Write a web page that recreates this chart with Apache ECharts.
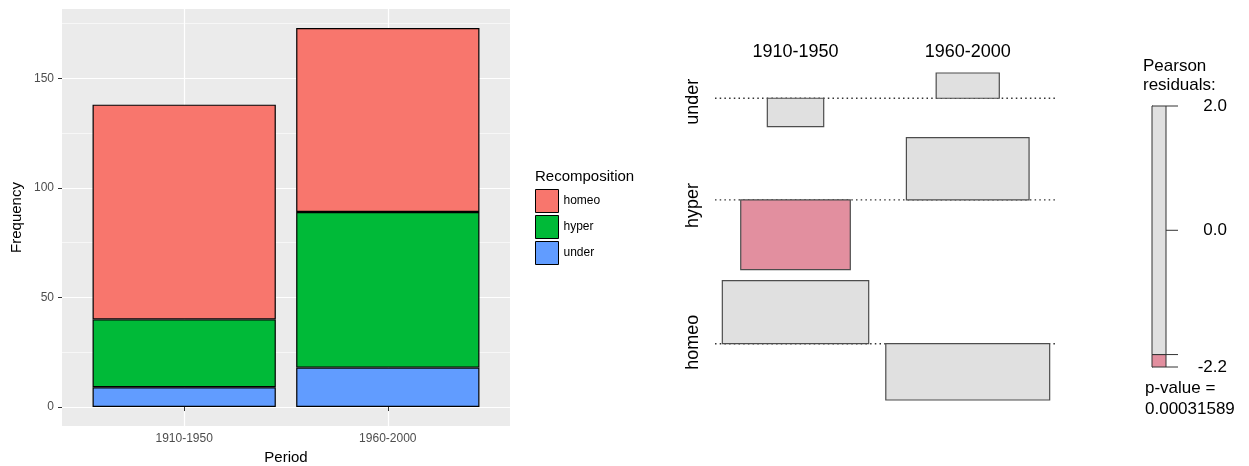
<!DOCTYPE html>
<html>
<head>
<meta charset="utf-8">
<title>Recomposition by period</title>
<script src="https://cdn.jsdelivr.net/npm/echarts@6/dist/echarts.min.js"></script>
<style>
  html, body { margin: 0; padding: 0; background: #fff; }
  #chart { width: 1249px; height: 466px; }
</style>
</head>
<body>
<div id="chart"></div>
<script>
// counts
var periods = ['1910-1950', '1960-2000'];
var groups = ['homeo', 'hyper', 'under'];
var underCounts = [9, 18];
var hyperCounts = [31, 71];
var homeoCounts = [98, 84];
var freqTicks = [0, 50, 100, 150];
var freqMinor = [25, 75, 125, 175];
var residualRange = [-2.2, 2.0];
var residualTicks = [-2.2, -2, 0, 2];
var residualLabels = [-2.2, 0, 2];
var pValue = '0.00031589';

var FONT = '"Liberation Sans", Arial, Helvetica, sans-serif';
var groupColors = { homeo: '#F8766D', hyper: '#00BA38', under: '#619CFF' };
var shadeGrey = '#E0E0E0';
var shadeRed = '#E28F9F';
var shadeBlue = '#8FB5E2';

var countsByGroup = { homeo: homeoCounts, hyper: hyperCounts, under: underCounts };

// ---- left: stacked bars ----
var totals = periods.map(function (p, j) {
  return underCounts[j] + hyperCounts[j] + homeoCounts[j];
});
var maxTotal = Math.max.apply(null, totals);
var yLo = -0.05 * maxTotal, yHi = 1.05 * maxTotal;  // ggplot-like expansion
var panelLeft = 62, panelW = 448;
var unitW = panelW / 2.2;  // discrete axis: 0.6 padding each side

var barSeries = ['under', 'hyper', 'homeo'].map(function (g) {
  return {
    name: g,
    type: 'bar',
    xAxisIndex: 3,
    yAxisIndex: 4,
    stack: 'freq',
    barWidth: '90%',
    itemStyle: { color: groupColors[g], borderColor: '#000', borderWidth: 1.2 },
    data: countsByGroup[g]
  };
});

// ---- right: association plot (Pearson residuals) ----
var assocRows = ['under', 'hyper', 'homeo'];
var rowTot = assocRows.map(function (g) { return countsByGroup[g][0] + countsByGroup[g][1]; });
var N = totals[0] + totals[1];
var cell = assocRows.map(function (g, i) {
  return periods.map(function (p, j) {
    var e = rowTot[i] * totals[j] / N;
    return { w: Math.sqrt(e), res: (countsByGroup[g][j] - e) / Math.sqrt(e) };
  });
});

var xGap = 1.05, xPad = 0.45, yGap = 0.34;
var colW = periods.map(function (p, j) {
  return Math.max.apply(null, cell.map(function (r) { return r[j].w; }));
});
var colLeft = [0, colW[0] + xGap];
var colCenter = [colW[0] / 2, colLeft[1] + colW[1] / 2];
var xTotal = colLeft[1] + colW[1];

var rowBase = [], rowMid = [];
var rowTop = 0;
assocRows.forEach(function (g, i) {
  var pos = Math.max(0, Math.max.apply(null, cell[i].map(function (c) { return c.res; })));
  var neg = Math.max(0, -Math.min.apply(null, cell[i].map(function (c) { return c.res; })));
  var base = rowTop - pos;
  var bottom = base - neg;
  rowBase.push(base);
  rowMid.push((rowTop + bottom) / 2 - 0.06);
  rowTop = bottom - yGap;
});
var yBottom = rowTop + yGap;

var tiles = [];
assocRows.forEach(function (g, i) {
  periods.forEach(function (p, j) {
    var c = cell[i][j];
    tiles.push([colCenter[j] - c.w / 2, colCenter[j] + c.w / 2, rowBase[i], rowBase[i] + c.res, c.res]);
  });
});
var baselines = rowBase.map(function (b) { return [-xPad, xTotal + xPad, b]; });

function nearestIndex(list, v) {
  var best = 0;
  list.forEach(function (x, k) { if (Math.abs(x - v) < Math.abs(list[best] - v)) best = k; });
  return best;
}

var chart = echarts.init(document.getElementById('chart'));
chart.setOption({
  animation: false,
  backgroundColor: '#fff',
  textStyle: { fontFamily: FONT },
  grid: [
    { left: panelLeft, top: 9, width: panelW, height: 417, show: true, backgroundColor: '#EBEBEB', borderWidth: 0, outerBoundsMode: 'none' },
    { left: 715, top: 73, width: 342, height: 327, outerBoundsMode: 'none' },
    { left: 1152, top: 106, width: 14, height: 261, outerBoundsMode: 'none' },
    { left: panelLeft + 0.1 * unitW, top: 9, width: 2 * unitW, height: 417, outerBoundsMode: 'none' }
  ],
  legend: {
    data: groups,
    orient: 'vertical',
    left: 535,
    top: 189,
    padding: 0,
    itemWidth: 23,
    itemHeight: 23,
    itemGap: 2,
    icon: 'rect',
    itemStyle: { borderWidth: 1 },
    textStyle: { fontFamily: FONT, fontSize: 12, color: '#000' }
  },
  graphic: [
    { type: 'text', left: 535, top: 169, style: { text: 'Recomposition', font: '15px ' + FONT, fill: '#000' } },
    { type: 'text', left: 1143, top: 58, style: { text: 'Pearson', font: '17px ' + FONT, fill: '#000' } },
    { type: 'text', left: 1143, top: 77, style: { text: 'residuals:', font: '17px ' + FONT, fill: '#000' } },
    { type: 'text', left: 1145, top: 380, style: { text: 'p-value =', font: '17px ' + FONT, fill: '#000' } },
    { type: 'text', left: 1145, top: 401, style: { text: pValue, font: '17px ' + FONT, fill: '#000' } }
  ],
  xAxis: [
    {
      gridIndex: 0, type: 'value', min: 0.4, max: 2.6,
      axisLine: { show: false },
      axisTick: { customValues: [1, 2], length: 4, lineStyle: { color: '#333' } },
      axisLabel: {
        customValues: [1, 2], margin: 7, fontSize: 12, color: '#4D4D4D',
        formatter: function (v) { return periods[Math.round(v) - 1]; }
      },
      splitLine: { show: true, lineStyle: { color: '#fff', width: 1.2 } },
      name: 'Period', nameLocation: 'middle', nameGap: 24,
      nameTextStyle: { fontSize: 15, color: '#000' }
    },
    {
      gridIndex: 1, type: 'value', min: -xPad, max: xTotal + xPad, position: 'top',
      axisLine: { show: false }, axisTick: { show: false }, splitLine: { show: false },
      axisLabel: {
        customValues: colCenter, margin: 12, fontSize: 18, color: '#000',
        formatter: function (v) { return periods[nearestIndex(colCenter, v)]; }
      }
    },
    { gridIndex: 2, type: 'value', min: 0, max: 1, show: false },
    { gridIndex: 3, type: 'category', data: periods, show: false }
  ],
  yAxis: [
    {
      gridIndex: 0, type: 'value', min: yLo, max: yHi,
      axisLine: { show: false },
      axisTick: { customValues: freqTicks, length: 4, lineStyle: { color: '#333' } },
      axisLabel: { customValues: freqTicks, margin: 8, fontSize: 12, color: '#4D4D4D' },
      splitLine: { show: true, lineStyle: { color: '#fff', width: 1.2 } },
      name: 'Frequency', nameLocation: 'middle', nameGap: 38,
      nameTextStyle: { fontSize: 15, color: '#000' }
    },
    {
      gridIndex: 0, type: 'value', min: yLo, max: yHi,
      axisLine: { show: false }, axisLabel: { show: false },
      axisTick: { show: false, customValues: freqMinor },
      splitLine: { show: true, lineStyle: { color: '#fff', width: 0.6 } }
    },
    {
      gridIndex: 1, type: 'value', min: yBottom, max: 0,
      axisLine: { show: false }, axisTick: { show: false }, splitLine: { show: false },
      axisLabel: {
        customValues: rowMid, rotate: 90, margin: 13, fontSize: 18, color: '#000',
        formatter: function (v) { return assocRows[nearestIndex(rowMid, v)]; }
      }
    },
    {
      gridIndex: 2, type: 'value', min: residualRange[0], max: residualRange[1], position: 'right',
      axisLine: { show: true, lineStyle: { color: '#333', width: 1 } },
      axisTick: { show: false },
      axisLabel: {
        customValues: residualLabels, margin: 61, align: 'right', fontSize: 17, color: '#000',
        formatter: function (v) { return v.toFixed(1); }
      },
      splitLine: { show: false }
    },
    { gridIndex: 3, type: 'value', min: yLo, max: yHi, show: false }
  ],
  series: barSeries.concat([
    {
      type: 'custom',
      xAxisIndex: 1, yAxisIndex: 2,
      z: 1,
      silent: true,
      data: baselines,
      renderItem: function (params, api) {
        var a = api.coord([api.value(0), api.value(2)]);
        var b = api.coord([api.value(1), api.value(2)]);
        return {
          type: 'line',
          shape: { x1: a[0], y1: a[1], x2: b[0], y2: b[1] },
          style: { stroke: '#333', lineWidth: 1.4, lineDash: [1.5, 3.2] }
        };
      }
    },
    {
      type: 'custom',
      xAxisIndex: 1, yAxisIndex: 2,
      z: 2,
      data: tiles,
      renderItem: function (params, api) {
        var p0 = api.coord([api.value(0), api.value(2)]);
        var p1 = api.coord([api.value(1), api.value(3)]);
        var r = api.value(4);
        return {
          type: 'rect',
          shape: {
            x: Math.min(p0[0], p1[0]), y: Math.min(p0[1], p1[1]),
            width: Math.abs(p1[0] - p0[0]), height: Math.abs(p1[1] - p0[1])
          },
          style: { fill: r < -2 ? shadeRed : (r > 2 ? shadeBlue : shadeGrey), stroke: '#4D4D4D', lineWidth: 1.2 }
        };
      }
    },
    {
      type: 'custom',
      xAxisIndex: 2, yAxisIndex: 3,
      z: 2,
      silent: true,
      data: [[residualRange[0], -2, -1], [-2, Math.min(2, residualRange[1]), 0]],
      renderItem: function (params, api) {
        var p0 = api.coord([0, api.value(0)]);
        var p1 = api.coord([1, api.value(1)]);
        var k = api.value(2);
        return {
          type: 'rect',
          shape: { x: p0[0], y: p1[1], width: p1[0] - p0[0], height: p0[1] - p1[1] },
          style: { fill: k < 0 ? shadeRed : (k > 0 ? shadeBlue : shadeGrey), stroke: '#333', lineWidth: 1 }
        };
      }
    },
    {
      // tick marks of the residual scale
      type: 'custom',
      xAxisIndex: 2, yAxisIndex: 3,
      z: 3,
      silent: true,
      data: residualTicks.map(function (v) { return [1, v]; }),
      renderItem: function (params, api) {
        var p = api.coord([api.value(0), api.value(1)]);
        return {
          type: 'line',
          shape: { x1: p[0], y1: p[1], x2: p[0] + 12, y2: p[1] },
          style: { stroke: '#333', lineWidth: 1 }
        };
      }
    }
  ])
});
</script>
</body>
</html>
